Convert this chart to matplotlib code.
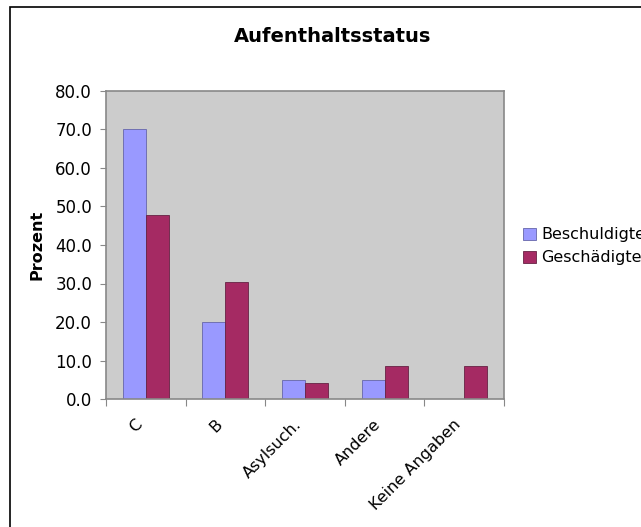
import numpy as np
import matplotlib
matplotlib.use('Agg')
import matplotlib.pyplot as plt
from matplotlib.patches import Rectangle
from matplotlib.transforms import ScaledTranslation

# data
categories = ['C', 'B', 'Asylsuch.', 'Andere', 'Keine Angaben']
beschuldigte = [70.0, 20.0, 5.0, 5.0, 0.0]
geschaedigte = [47.8, 30.4, 4.2, 8.7, 8.7]

fig = plt.figure(figsize=(6.41, 5.27), dpi=100)
fig.patch.set_facecolor('white')

# outer chart border
fig.patches.append(Rectangle((10 / 641, -0.1), 1.2, 1 - 7 / 527 + 0.1,
                             transform=fig.transFigure, fill=False,
                             edgecolor='black', linewidth=1.2))

ax = fig.add_axes([106 / 641, 128 / 527, 398 / 641, 308 / 527])
ax.set_facecolor('#cccccc')

x = np.arange(len(categories))
w = 0.29
ax.bar(x - w / 2, beschuldigte, w, color='#9999ff', edgecolor='#6666aa', linewidth=0.6,
       label='Beschuldigte')
ax.bar(x + w / 2, geschaedigte, w, color='#a52a63', edgecolor='#662244', linewidth=0.6,
       label='Geschädigte')

ax.set_xlim(-0.5, len(categories) - 0.5)
ax.set_ylim(0, 80)
ax.set_yticks(np.arange(0, 81, 10))
ax.set_yticklabels([f'{v:.1f}' for v in np.arange(0, 81, 10)], fontsize=12)

ax.set_xticks(np.arange(-0.5, len(categories), 1))
ax.set_xticklabels([])
ax.set_xticks(x, minor=True)
ax.set_xticklabels(categories, minor=True, rotation=45, ha='right', va='top',
                   rotation_mode='anchor', fontsize=11.5)
ax.tick_params(axis='x', which='minor', length=0, pad=13)
ax.tick_params(axis='x', which='major', length=5, direction='out', color='#888888')
ax.tick_params(axis='y', length=4, direction='out', color='#888888', pad=6)

# shift the rotated category labels a bit to the left like the original
shift = ScaledTranslation(-11 / 100, 0, fig.dpi_scale_trans)
for lbl in ax.get_xticklabels(minor=True):
    lbl.set_transform(lbl.get_transform() + shift)

for s in ax.spines.values():
    s.set_color('#888888')
    s.set_linewidth(1.2)

ax.set_ylabel('Prozent', fontsize=11.5, fontweight='bold', labelpad=8)
fig.text(333 / 641, 1 - 36 / 527, 'Aufenthaltsstatus', ha='center', va='center',
         fontsize=14, fontweight='bold')

fig.legend(loc='upper left', bbox_to_anchor=(517 / 641, 1 - 221 / 527), frameon=False,
           fontsize=11.5, handlelength=0.8, handleheight=0.8, handletextpad=0.3,
           labelspacing=0.5, borderaxespad=0)

fig.savefig('out.png', dpi=100)
